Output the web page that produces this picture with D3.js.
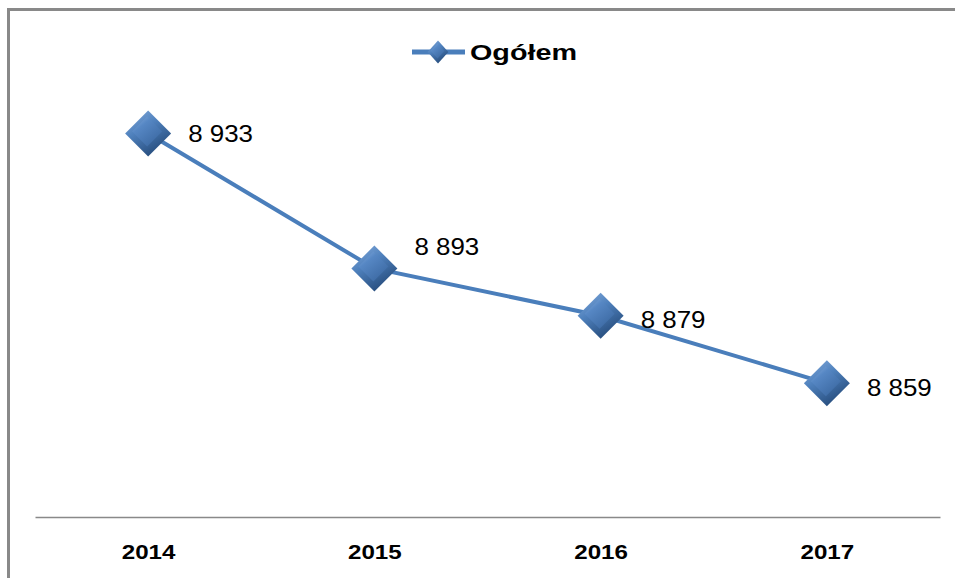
<!DOCTYPE html>
<html>
<head>
<meta charset="utf-8">
<script src="https://cdnjs.cloudflare.com/ajax/libs/d3/7.8.5/d3.min.js"></script>
<style>
  body { margin: 0; background: #fff; }
  svg { display: block; font-family: "Liberation Sans", Arial, sans-serif; }
</style>
</head>
<body>
<svg id="chart"></svg>
<script>
// data
const years = ["2014", "2015", "2016", "2017"];
const values = [8933, 8893, 8879, 8859];
const seriesName = "Ogółem";
// label nudges (Excel labels were moved by hand a bit)
const labelDy = [0, -22, 4, 4];

const width = 955, height = 578;
const blue = "#4a7ebb";

const svg = d3.select("#chart").attr("width", width).attr("height", height);

// frame of the chart area, cut off at right / bottom
svg.append("rect")
    .attr("x", 8.5).attr("y", 9.5)
    .attr("width", 1000).attr("height", 1000)
    .attr("fill", "#fff")
    .attr("stroke", "#898989")
    .attr("stroke-width", 3);

const x = d3.scalePoint().domain(years).range([35, 940]).padding(0.5);
const y = d3.scaleLinear().domain([8820, 8950]).range([515, 76]);

// gradients for the bevelled diamonds
const defs = svg.append("defs");
const g1 = defs.append("linearGradient").attr("id", "outer")
    .attr("x1", 0).attr("y1", 0).attr("x2", 0.6).attr("y2", 1);
g1.append("stop").attr("offset", "0%").attr("stop-color", "#86acdc");
g1.append("stop").attr("offset", "45%").attr("stop-color", "#4f81bd");
g1.append("stop").attr("offset", "100%").attr("stop-color", "#264c7c");
const g2 = defs.append("linearGradient").attr("id", "inner")
    .attr("x1", 0).attr("y1", 0).attr("x2", 0.8).attr("y2", 1);
g2.append("stop").attr("offset", "0%").attr("stop-color", "#8fb4e2");
g2.append("stop").attr("offset", "35%").attr("stop-color", "#5687c4");
g2.append("stop").attr("offset", "100%").attr("stop-color", "#3a67a0");

const diamondType = {
    draw(ctx, size) {
        const r = Math.sqrt(size / 2);
        ctx.moveTo(0, -r);
        ctx.lineTo(r, 0);
        ctx.lineTo(0, r);
        ctx.lineTo(-r, 0);
        ctx.closePath();
    }
};
const outerSym = d3.symbol().type(diamondType).size(2 * 23 * 23);
const innerSym = d3.symbol().type(diamondType).size(2 * 15 * 15);

function drawMarker(sel, scale) {
    sel.append("path").attr("d", outerSym()).attr("fill", "url(#outer)")
        .attr("transform", `scale(${scale})`);
    sel.append("path").attr("d", innerSym()).attr("fill", "url(#inner)")
        .attr("transform", `scale(${scale}) translate(-1,-2)`);
}

// axis
const xAxis = svg.append("g")
    .attr("transform", `translate(0, ${517})`)
    .call(d3.axisBottom(x).tickSize(0).tickSizeOuter(0));
xAxis.select(".domain").attr("stroke", "#898989").attr("stroke-width", 1.5);
xAxis.selectAll(".tick text")
    .attr("y", 0).attr("dy", null)
    .attr("transform", "translate(0,42) scale(1.15,1)")
    .attr("fill", "#000")
    .style("font-family", "'Liberation Sans', Arial, sans-serif")
    .style("font-size", "21px")
    .style("font-weight", "bold");

// line
const line = d3.line().x((d, i) => x(years[i])).y(d => y(d));
svg.append("path")
    .datum(values)
    .attr("fill", "none")
    .attr("stroke", blue)
    .attr("stroke-width", 4)
    .attr("d", line);

// markers
svg.selectAll(".marker")
    .data(values)
    .join("g")
    .attr("class", "marker")
    .attr("transform", (d, i) => `translate(${x(years[i])}, ${y(d)})`)
    .each(function () { drawMarker(d3.select(this), 1); });

// data labels
svg.selectAll(".lbl")
    .data(values)
    .join("text")
    .attr("class", "lbl")
    .attr("transform", (d, i) => `translate(${x(years[i]) + 40}, ${y(d) + labelDy[i]}) scale(1.08,1)`)
    .attr("dy", "0.36em")
    .style("font-size", "24px")
    .attr("fill", "#000")
    .text(d => d3.format(",")(d).replace(",", " "));

// legend
const leg = svg.append("g").attr("transform", "translate(412, 52)");
leg.append("line")
    .attr("x1", 0).attr("x2", 53)
    .attr("stroke", blue).attr("stroke-width", 5);
leg.append("g").attr("transform", "translate(26, 0) scale(1,1.1)")
    .call(drawMarker, 0.45);
leg.append("text")
    .attr("x", 58).attr("dy", "0.36em")
    .attr("textLength", 107)
    .attr("lengthAdjust", "spacingAndGlyphs")
    .style("font-size", "22px")
    .style("font-weight", "bold")
    .text(seriesName);
</script>
</body>
</html>
